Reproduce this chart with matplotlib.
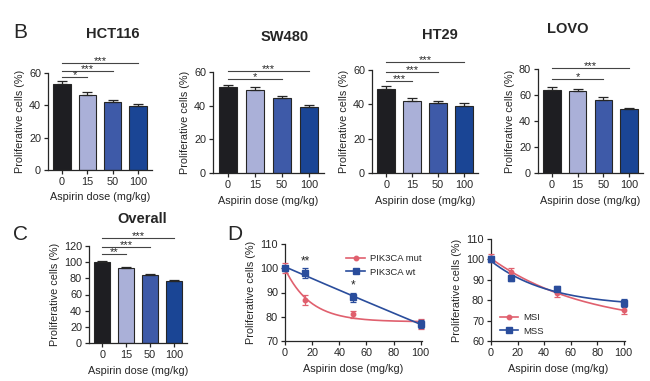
import numpy as np
import matplotlib
matplotlib.use('Agg')
import matplotlib.pyplot as plt

plt.rcParams['font.family'] = ['Liberation Sans', 'DejaVu Sans']

# ---- data ----
doses = [0, 15, 50, 100]
dose_labels = ['0', '15', '50', '100']

hct116_mean = [53, 46.5, 42, 39.5]
hct116_err = [2, 2, 1.5, 1.5]
sw480_mean = [51, 49.5, 44.5, 39]
sw480_err = [1.2, 1.5, 1.5, 1.5]
ht29_mean = [49, 42, 40.5, 39]
ht29_err = [1.5, 1.5, 1.5, 1.5]
lovo_mean = [64, 63, 56.5, 49]
lovo_err = [2.5, 2, 2, 1]
overall_mean = [100, 92.5, 84, 76.5]
overall_err = [1.5, 1.5, 1.5, 1.5]

# significance brackets: (from bar, to bar, stars)
hct116_sig = [(0, 1, '*'), (0, 2, '***'), (0, 3, '***')]
sw480_sig = [(0, 2, '*'), (0, 3, '***')]
ht29_sig = [(0, 1, '***'), (0, 2, '***'), (0, 3, '***')]
lovo_sig = [(0, 2, '*'), (0, 3, '***')]
overall_sig = [(0, 1, '**'), (0, 2, '***'), (0, 3, '***')]

pik_mut_mean = [100, 87, 81, 77]
pik_mut_err = [2, 2, 1.5, 2]
pik_wt_mean = [100, 98, 88, 77]
pik_wt_err = [1, 2, 2, 1.5]
pik_stars = ['', '**', '*', '']

msi_mean = [100.5, 94, 83.5, 75]
msi_err = [2, 2, 2, 2]
mss_mean = [100, 91, 85.5, 78.5]
mss_err = [1.5, 1.5, 1.5, 2]

bar_colors = ['#1e1e22', '#aab0d8', '#3e5aa8', '#1a4595']
red = '#e0606e'
blue = '#2a4d9c'
txt = '#262626'

W, H = 650, 381
fig = plt.figure(figsize=(W / 100, H / 100), dpi=100)


def box(l, r, t, b):
    return [l / W, 1 - b / H, (r - l) / W, (b - t) / H]


def style(ax):
    for s in ['top', 'right']:
        ax.spines[s].set_visible(False)
    for s in ['left', 'bottom']:
        ax.spines[s].set_color(txt)
        ax.spines[s].set_linewidth(0.9)
    ax.tick_params(labelsize=7.8, colors=txt, length=3, width=0.9, pad=2)
    ax.set_ylabel('Proliferative cells (%)', fontsize=7.8, color=txt, labelpad=3)
    ax.set_xlabel('Aspirin dose (mg/kg)', fontsize=7.8, color=txt, labelpad=4)


def bar_panel(rect, mean, err, ymax, ystep, sig, heights):
    ax = fig.add_axes(box(*rect))
    x = np.arange(len(mean))
    ax.bar(x, mean, width=0.68, color=bar_colors, edgecolor=txt, linewidth=0.8, zorder=2)
    ax.errorbar(x, mean, yerr=[np.zeros(len(err)), err], fmt='none', ecolor=txt,
                elinewidth=0.9, capsize=3.5, capthick=0.9, zorder=3)
    ax.set_xlim(-0.55, 3.55)
    ax.set_ylim(0, ymax)
    ax.set_yticks(np.arange(0, ymax + 1, ystep))
    ax.set_xticks(x)
    ax.set_xticklabels(dose_labels)
    style(ax)
    trans = ax.get_xaxis_transform()
    for (a, b, s), h in zip(sig, heights):
        ax.plot([a, b], [h, h], color='#444444', lw=0.8, transform=trans, clip_on=False)
        ax.text((a + b) / 2, h - 0.03, s, ha='center', va='bottom', fontsize=8,
                color=txt, transform=trans, clip_on=False)
    return ax


def decay_fit(x, y):
    # one-phase decay y = b + a*exp(-k x), grid over k
    xs = np.asarray(x, float)
    ys = np.asarray(y, float)
    best = None
    for k in np.linspace(0.0005, 0.3, 600):
        A = np.column_stack([np.exp(-k * xs), np.ones_like(xs)])
        coef, res, *_ = np.linalg.lstsq(A, ys, rcond=None)
        r = np.sum((A @ coef - ys) ** 2)
        if best is None or r < best[0]:
            best = (r, k, coef)
    _, k, (a, b) = best
    xx = np.linspace(0, 100, 200)
    return xx, b + a * np.exp(-k * xx)


def line_panel(rect, ylim, yticks, series, legend_loc, bbox):
    ax = fig.add_axes(box(*rect))
    for mean, err, col, mk, ms, lab in series:
        xx, yy = decay_fit(doses, mean)
        ax.plot(xx, yy, color=col, lw=1.2, zorder=2)
        ax.errorbar(doses, mean, yerr=err, fmt=mk, color=col, ms=ms, elinewidth=0.9,
                    capsize=2.5, capthick=0.9, zorder=3, clip_on=False)
        ax.plot([], [], color=col, marker=mk, ms=ms, lw=1.2, label=lab)
    ax.set_xlim(0, 101)
    ax.set_ylim(*ylim)
    ax.set_yticks(yticks)
    ax.set_xticks([0, 20, 40, 60, 80, 100])
    style(ax)
    ax.legend(loc=legend_loc, bbox_to_anchor=bbox, frameon=False, fontsize=6.8,
              handlelength=2.0, handletextpad=0.5, labelspacing=0.45, labelcolor=txt)
    return ax


# ---- B ----
bar_panel((48, 152, 73, 170), hct116_mean, hct116_err, 60, 20, hct116_sig, [0.96, 1.02, 1.10])
bar_panel((213, 324, 72, 173), sw480_mean, sw480_err, 60, 20, sw480_sig, [0.93, 1.01])
bar_panel((372, 478, 70, 173), ht29_mean, ht29_err, 60, 20, ht29_sig, [0.89, 0.98, 1.08])
bar_panel((538, 643, 69, 173), lovo_mean, lovo_err, 80, 20, lovo_sig, [0.90, 1.01])

# ---- C ----
bar_panel((89, 187, 246, 343), overall_mean, overall_err, 120, 20, overall_sig, [0.92, 0.99, 1.08])

# ---- D ----
axd = line_panel((285, 422, 244, 341), (70, 110), [70, 80, 90, 100, 110],
                 [(pik_mut_mean, pik_mut_err, red, 'o', 3.2, 'PIK3CA mut'),
                  (pik_wt_mean, pik_wt_err, blue, 's', 4.2, 'PIK3CA wt')],
                 'upper right', (1.06, 0.98))
for d, m, e, s in zip(doses, pik_wt_mean, pik_wt_err, pik_stars):
    if s:
        axd.text(d, m + e + 0.5, s, ha='center', va='bottom', fontsize=8.5, color=txt)

line_panel((491, 625, 239, 341), (60, 110), [60, 70, 80, 90, 100, 110],
           [(msi_mean, msi_err, red, 'o', 3.2, 'MSI'),
            (mss_mean, mss_err, blue, 's', 4.2, 'MSS')],
           'lower left', (0.0, -0.03))

# ---- titles and panel letters ----
def ftext(x, y, s, **kw):
    fig.text(x / W, 1 - y / H, s, ha='center', va='center', color=txt, **kw)


ftext(113, 34, 'HCT116', fontsize=10.5, fontweight='bold')
ftext(285, 37, 'SW480', fontsize=10.5, fontweight='bold')
ftext(440, 35, 'HT29', fontsize=10.5, fontweight='bold')
ftext(568, 29, 'LOVO', fontsize=10.5, fontweight='bold')
ftext(142, 219, 'Overall', fontsize=10.5, fontweight='bold')
ftext(20, 33, 'B', fontsize=15)
ftext(21, 235, 'C', fontsize=15)
ftext(235, 235, 'D', fontsize=15)

fig.savefig('out.png', dpi=100)
